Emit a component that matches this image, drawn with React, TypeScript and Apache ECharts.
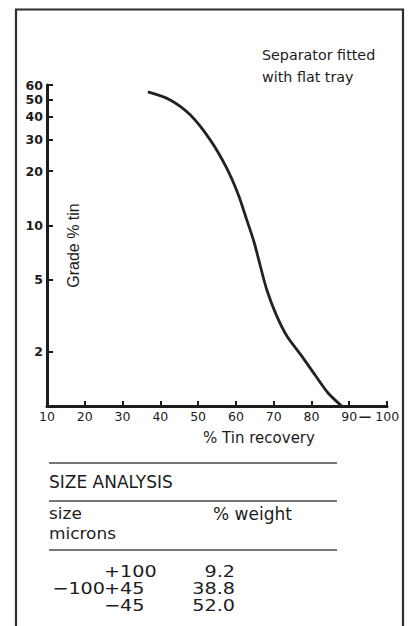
import React, { useEffect, useRef } from 'react';
import * as echarts from 'echarts';

// Curve: % Tin recovery vs Grade % tin
const recovery = [36.7, 42.6, 47.9, 53.2, 57.4, 60.6, 62.9, 64.8, 66.4, 68.2, 70.6, 73.5, 77.2, 81.0, 84.4, 88.0];
const grade = [54.9, 49.6, 41.0, 29.8, 21.1, 14.9, 10.7, 8.1, 6.04, 4.39, 3.23, 2.44, 1.92, 1.48, 1.18, 1.0];

const xTicks = [10, 20, 30, 40, 50, 60, 70, 80, 90, 100];
const yTicks = [2, 5, 10, 20, 30, 40, 50, 60];

const noteLines = ['Separator fitted', 'with flat tray'];

// Size analysis table
const sizeHeader = ['size', 'microns'];
const sizeFrom = ['', '\u2212100', ''];
const sizeTo = ['+100', '+45', '\u221245'];
const weights = [9.2, 38.8, 52.0];

const FONT = '"DejaVu Sans", "Liberation Sans", sans-serif';
const INK = '#1c1c1c';

export default function App() {
  const ref = useRef<HTMLDivElement>(null);

  useEffect(() => {
    if (!ref.current) return;
    const chart = echarts.init(ref.current, undefined, { renderer: 'svg' });

    const graphics: any[] = [
      {
        type: 'rect',
        shape: { x: 16, y: 9.5, width: 387, height: 700 },
        style: { fill: 'none', stroke: '#2e2e2e', lineWidth: 2.2 },
        silent: true,
      },
      {
        type: 'text',
        style: {
          text: noteLines.join('\n'),
          x: 262,
          y: 44,
          fontSize: 14.3,
          fontFamily: FONT,
          lineHeight: 22,
          fill: INK,
          textAlign: 'left',
          textVerticalAlign: 'top',
        },
      },
    ];

    const lineYs = [463, 501, 550];
    lineYs.forEach((y) => {
      graphics.push({
        type: 'line',
        shape: { x1: 49, y1: y, x2: 337, y2: y },
        style: { stroke: '#4a4a4a', lineWidth: 1.5 },
      });
    });

    const txt = (text: string, x: number, y: number, size: number, align = 'left', sx = 1) => ({
      type: 'text',
      x,
      y,
      scaleX: sx,
      style: {
        text,
        x: 0,
        y: 0,
        fontSize: size,
        lineHeight: 16,
        fontFamily: FONT,
        fill: INK,
        textAlign: align,
        textVerticalAlign: 'middle',
      },
    });

    graphics.push(txt('SIZE ANALYSIS', 49, 482, 17));
    graphics.push(txt(sizeHeader[0], 49, 514, 16, 'left', 1.06));
    graphics.push(txt(sizeHeader[1], 49, 534, 16, 'left', 1.06));
    graphics.push(txt('% weight', 213, 514, 17));

    const rowYs = [571.5, 588.5, 605.5];
    sizeTo.forEach((s, i) => {
      if (sizeFrom[i]) graphics.push(txt(sizeFrom[i], 105, rowYs[i], 16, 'right', 1.2));
      graphics.push(txt(s, 104, rowYs[i], 16, 'left', 1.2));
      graphics.push(txt(weights[i].toFixed(1), 235, rowYs[i], 16, 'right', 1.2));
    });

    chart.setOption({
      animation: false,
      grid: { left: 47, right: 22, top: 85, bottom: 220 },
      xAxis: {
        type: 'value',
        min: xTicks[0],
        max: xTicks[xTicks.length - 1],
        interval: 10,
        name: '% Tin recovery',
        nameLocation: 'middle',
        nameGap: 24,
        nameTextStyle: { fontSize: 15, fontFamily: FONT, color: INK, padding: [0, 0, 0, 84] },
        axisLine: { show: true, onZero: false, lineStyle: { color: INK, width: 3 } },
        axisTick: { show: true, inside: true, length: 5, lineStyle: { color: INK, width: 2 } },
        splitLine: { show: false },
        axisLabel: {
          margin: 4,
          fontSize: 12.5,
          fontFamily: FONT,
          color: INK,
          formatter: (v: number) => (v === 100 ? '{d|\u2014}{n|' + v + '}' : String(v)),
          rich: {
            d: { fontSize: 12.5, fontWeight: 'bold', fontFamily: FONT, color: INK },
            n: { fontSize: 12.5, fontFamily: FONT, color: INK, padding: [0, 16, 0, 4] },
          },
        },
      },
      yAxis: {
        type: 'log',
        logBase: 10,
        min: 1,
        max: 60,
        name: 'Grade % tin',
        nameLocation: 'middle',
        nameGap: -34,
        nameTextStyle: {
          fontSize: 16,
          fontFamily: '"Liberation Sans", sans-serif',
          color: INK,
        },
        axisLine: { show: true, lineStyle: { color: INK, width: 3 } },
        axisTick: {
          show: true,
          inside: true,
          length: 6,
          customValues: yTicks,
          lineStyle: { color: INK, width: 2 },
        },
        minorTick: { show: false },
        splitLine: { show: false },
        axisLabel: {
          margin: 4,
          fontSize: 12.5,
          fontWeight: 'bold',
          fontFamily: FONT,
          color: INK,
          customValues: yTicks,
        },
      },
      series: [
        {
          type: 'line',
          data: recovery.map((x, i) => [x, grade[i]]),
          smooth: 0.3,
          symbol: 'none',
          lineStyle: { color: '#222', width: 2.8 },
        },
      ],
      graphic: graphics,
    });

    return () => chart.dispose();
  }, []);

  return (
    <div
      ref={ref}
      style={{ position: 'fixed', left: 0, top: 0, width: 409, height: 626, background: '#fff' }}
    />
  );
}
